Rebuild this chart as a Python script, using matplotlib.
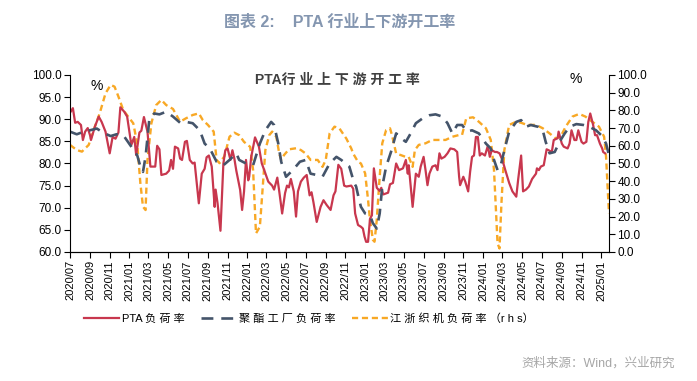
import matplotlib
matplotlib.use("Agg")
import matplotlib.pyplot as plt
import matplotlib.dates as mdates
import pandas as pd

plt.rcParams['font.family'] = ['Liberation Sans', 'Noto Sans CJK SC']

# Datos
pta_fechas = [
    "2020-07-03", "2020-07-10", "2020-07-17", "2020-07-25", "2020-08-04", "2020-08-10", "2020-08-17",
    "2020-08-25", "2020-09-01", "2020-09-04", "2020-09-16", "2020-09-28", "2020-10-07", "2020-10-19",
    "2020-11-01", "2020-11-10", "2020-11-19", "2020-11-28", "2020-12-04", "2020-12-16", "2020-12-25",
    "2021-01-07", "2021-01-16", "2021-01-22", "2021-02-01", "2021-02-07", "2021-02-15", "2021-02-26",
    "2021-03-07", "2021-03-22", "2021-03-28", "2021-04-04", "2021-04-10", "2021-04-25", "2021-05-04",
    "2021-05-10", "2021-05-16", "2021-05-22", "2021-06-01", "2021-06-07", "2021-06-13", "2021-06-22",
    "2021-06-28", "2021-07-07", "2021-07-16", "2021-07-22", "2021-08-04", "2021-08-13", "2021-08-22",
    "2021-08-28", "2021-09-04", "2021-09-13", "2021-09-22", "2021-09-25", "2021-10-01", "2021-10-10",
    "2021-10-19", "2021-10-25", "2021-11-01", "2021-11-10", "2021-11-16", "2021-11-22", "2021-11-28",
    "2021-12-10", "2021-12-16", "2021-12-22", "2021-12-28", "2022-01-04", "2022-01-07", "2022-01-13",
    "2022-01-25", "2022-02-06", "2022-02-15", "2022-02-23", "2022-03-07", "2022-03-19", "2022-03-25",
    "2022-04-04", "2022-04-10", "2022-04-19", "2022-04-28", "2022-05-04", "2022-05-10", "2022-05-16",
    "2022-05-25", "2022-06-01", "2022-06-07", "2022-06-16", "2022-06-25", "2022-07-04", "2022-07-13",
    "2022-07-19", "2022-07-25", "2022-08-04", "2022-08-16", "2022-08-25", "2022-09-04", "2022-09-16",
    "2022-09-25", "2022-10-01", "2022-10-10", "2022-10-19", "2022-10-28", "2022-11-04", "2022-11-19",
    "2022-11-25", "2022-12-01", "2022-12-10", "2022-12-19", "2022-12-25", "2022-12-30", "2023-01-04",
    "2023-01-10", "2023-01-16", "2023-01-22", "2023-01-28", "2023-02-06", "2023-02-15", "2023-02-20",
    "2023-02-26", "2023-03-13", "2023-03-19", "2023-03-28", "2023-04-07", "2023-04-16", "2023-04-28",
    "2023-05-07", "2023-05-13", "2023-05-16", "2023-05-28", "2023-06-07", "2023-06-16", "2023-06-22",
    "2023-07-01", "2023-07-07", "2023-07-13", "2023-07-19", "2023-07-28", "2023-08-07", "2023-08-13",
    "2023-08-19", "2023-08-25", "2023-09-04", "2023-09-13", "2023-09-22", "2023-10-04", "2023-10-13",
    "2023-10-19", "2023-10-22", "2023-11-01", "2023-11-07", "2023-11-16", "2023-11-22", "2023-11-28",
    "2023-12-04", "2023-12-10", "2023-12-16", "2023-12-22", "2023-12-28", "2024-01-07", "2024-01-16",
    "2024-01-22", "2024-01-28", "2024-02-07", "2024-02-13", "2024-02-21", "2024-03-01", "2024-03-10",
    "2024-03-22", "2024-04-01", "2024-04-13", "2024-04-19", "2024-04-28", "2024-05-04", "2024-05-13",
    "2024-05-22", "2024-06-01", "2024-06-13", "2024-06-16", "2024-06-22", "2024-06-28", "2024-07-07",
    "2024-07-16", "2024-07-22", "2024-08-01", "2024-08-07", "2024-08-19", "2024-08-22", "2024-09-01",
    "2024-09-07", "2024-09-19", "2024-09-25", "2024-10-01", "2024-10-10", "2024-10-16", "2024-10-22",
    "2024-11-01", "2024-11-07", "2024-11-16", "2024-11-22", "2024-11-28", "2024-12-07", "2024-12-13",
    "2024-12-19", "2024-12-28", "2025-01-04", "2025-01-07", "2025-01-13",
]
pta_valores = [
    91.7, 92.5, 89.2, 89.4, 88.7, 85.3, 87.2,
    88.0, 86.4, 85.3, 88.3, 90.6, 89.4, 87.2,
    82.3, 86.0, 85.6, 87.0, 92.7, 91.7, 90.6,
    84.2, 86.0, 81.9, 87.0, 87.4, 90.5, 87.2,
    79.3, 79.3, 84.0, 83.2, 77.4, 77.7, 78.4,
    80.8, 78.8, 83.8, 83.4, 81.1, 80.8, 84.9,
    85.1, 80.8, 80.0, 80.2, 71.0, 77.7, 78.8,
    81.4, 81.8, 79.3, 70.2, 74.1, 71.0, 64.8,
    80.0, 83.0, 83.4, 80.8, 83.0, 81.1, 78.4,
    74.0, 69.5, 73.7, 80.8, 76.2, 77.0, 81.4,
    85.9, 83.8, 80.0, 78.4, 75.9, 75.0, 74.1,
    76.8, 73.7, 68.7, 73.3, 75.0, 74.6, 76.5,
    73.7, 68.0, 73.7, 75.9, 76.8, 77.4, 72.8,
    73.5, 71.2, 66.8, 70.2, 71.7, 70.6, 69.5,
    72.8, 73.7, 79.7, 78.8, 75.0, 74.8, 75.0,
    74.3, 68.7, 66.1, 65.7, 65.3, 63.5, 62.3,
    62.3, 67.5, 68.3, 78.9, 74.5, 73.8, 74.5,
    73.0, 73.4, 75.3, 75.6, 80.0, 78.5, 78.9,
    80.8, 77.7, 79.6, 70.2, 77.7, 77.0, 79.3,
    81.5, 78.5, 75.1, 77.7, 79.3, 79.6, 78.5,
    82.3, 81.1, 81.5, 82.3, 83.4, 83.2, 82.6,
    77.0, 75.1, 77.0, 75.9, 73.7, 78.1, 81.5,
    81.8, 86.0, 86.0, 81.8, 82.3, 81.8, 84.0,
    81.5, 83.0, 82.6, 82.6, 82.3, 80.8, 78.5,
    75.6, 73.7, 72.5, 76.5, 81.8, 73.7, 74.1,
    74.8, 76.5, 77.7, 78.9, 78.5, 79.3, 79.6,
    83.2, 83.0, 82.6, 85.3, 85.7, 87.2, 84.5,
    83.8, 83.4, 84.5, 87.5, 85.3, 85.3, 87.5,
    84.9, 84.5, 84.9, 89.4, 91.3, 88.7, 86.4,
    86.4, 84.5, 83.4, 82.6, 82.3,
]

poliester_fechas = [
    "2020-07-01", "2020-07-22", "2020-08-13", "2020-09-01", "2020-09-22", "2020-10-13", "2020-11-04",
    "2020-11-22", "2020-12-13", "2021-01-04", "2021-01-25", "2021-02-04", "2021-02-12", "2021-02-20",
    "2021-03-04", "2021-03-19", "2021-04-04", "2021-04-25", "2021-05-16", "2021-06-07", "2021-06-25",
    "2021-07-16", "2021-08-07", "2021-08-22", "2021-09-07", "2021-09-28", "2021-10-19", "2021-11-07",
    "2021-11-28", "2021-12-07", "2021-12-28", "2022-01-19", "2022-02-09", "2022-02-26", "2022-03-16",
    "2022-03-25", "2022-04-07", "2022-04-16", "2022-05-01", "2022-05-22", "2022-06-13", "2022-07-01",
    "2022-07-16", "2022-08-04", "2022-08-22", "2022-09-13", "2022-10-04", "2022-10-19", "2022-11-13",
    "2022-11-28", "2022-12-04", "2022-12-13", "2022-12-19", "2023-01-01", "2023-01-16", "2023-01-25",
    "2023-02-06", "2023-02-15", "2023-02-23", "2023-03-07", "2023-03-22", "2023-04-07", "2023-04-22",
    "2023-05-07", "2023-05-22", "2023-06-07", "2023-06-28", "2023-07-19", "2023-08-07", "2023-08-28",
    "2023-09-13", "2023-09-28", "2023-10-13", "2023-10-28", "2023-11-13", "2023-11-28", "2023-12-19",
    "2024-01-10", "2024-01-25", "2024-02-04", "2024-02-15", "2024-02-24", "2024-03-07", "2024-03-22",
    "2024-04-13", "2024-04-28", "2024-05-13", "2024-05-28", "2024-06-19", "2024-07-04", "2024-07-13",
    "2024-07-25", "2024-08-10", "2024-08-25", "2024-09-10", "2024-09-25", "2024-10-16", "2024-11-07",
    "2024-11-25", "2024-12-16", "2025-01-01", "2025-01-16", "2025-01-25",
]
poliester_valores = [
    87.2, 86.6, 87.2, 87.5, 87.9, 86.9, 86.2,
    86.6, 86.4, 84.1, 81.9, 79.3, 78.1, 81.5,
    90.2, 91.3, 91.1, 91.7, 90.6, 89.2, 89.4,
    89.1, 87.5, 84.5, 83.4, 80.4, 79.6, 80.8,
    82.3, 80.8, 80.0, 79.6, 84.5, 87.5, 89.4,
    88.7, 84.5, 80.4, 77.0, 78.5, 80.4, 80.8,
    77.7, 77.4, 77.0, 80.0, 81.5, 80.8, 79.3,
    75.6, 74.8, 71.9, 70.2, 68.7, 68.3, 66.5,
    65.3, 68.7, 74.8, 79.3, 82.6, 86.8, 85.7,
    84.9, 86.8, 89.1, 90.2, 90.9, 91.1, 90.6,
    89.1, 86.8, 88.7, 88.7, 87.2, 87.5, 86.8,
    84.5, 83.4, 80.8, 78.5, 79.3, 83.0, 87.2,
    89.4, 89.8, 88.3, 88.7, 88.3, 87.5, 84.9,
    82.3, 82.6, 84.9, 86.8, 88.3, 88.9, 88.7,
    88.3, 87.5, 86.4, 84.5, 81.9,
]

telares_fechas = [
    "2020-07-01", "2020-07-22", "2020-08-07", "2020-08-28", "2020-09-16", "2020-10-01", "2020-10-19",
    "2020-11-04", "2020-11-16", "2020-11-28", "2020-12-13", "2020-12-28", "2021-01-13", "2021-01-25",
    "2021-02-04", "2021-02-12", "2021-02-20", "2021-02-26", "2021-03-10", "2021-03-25", "2021-04-10",
    "2021-04-25", "2021-05-16", "2021-06-07", "2021-06-25", "2021-07-16", "2021-08-04", "2021-08-16",
    "2021-09-01", "2021-09-19", "2021-09-28", "2021-10-07", "2021-10-22", "2021-11-07", "2021-11-22",
    "2021-12-07", "2021-12-22", "2022-01-10", "2022-01-19", "2022-01-28", "2022-02-09", "2022-02-18",
    "2022-02-26", "2022-03-10", "2022-03-19", "2022-04-01", "2022-04-10", "2022-04-16", "2022-04-25",
    "2022-05-10", "2022-06-01", "2022-06-16", "2022-07-01", "2022-07-16", "2022-08-07", "2022-08-22",
    "2022-09-01", "2022-09-13", "2022-09-28", "2022-10-13", "2022-11-04", "2022-11-19", "2022-11-25",
    "2022-12-10", "2022-12-19", "2023-01-01", "2023-01-10", "2023-01-16", "2023-01-25", "2023-01-30",
    "2023-02-06", "2023-02-15", "2023-02-23", "2023-03-07", "2023-03-19", "2023-03-25", "2023-04-07",
    "2023-04-22", "2023-05-07", "2023-05-16", "2023-05-28", "2023-06-04", "2023-06-16", "2023-07-07",
    "2023-07-28", "2023-08-19", "2023-09-07", "2023-09-28", "2023-10-19", "2023-10-28", "2023-11-10",
    "2023-12-01", "2023-12-19", "2024-01-10", "2024-01-25", "2024-02-04", "2024-02-15", "2024-02-21",
    "2024-02-27", "2024-03-07", "2024-03-22", "2024-04-13", "2024-04-28", "2024-05-16", "2024-06-13",
    "2024-07-04", "2024-07-25", "2024-08-13", "2024-08-28", "2024-09-13", "2024-10-04", "2024-10-25",
    "2024-11-13", "2024-12-04", "2024-12-25", "2025-01-10", "2025-01-16", "2025-01-25",
]
telares_valores = [
    60.5, 57.6, 56.7, 60.5, 70.8, 78.3, 89.6,
    94.4, 93.4, 87.8, 80.2, 76.5, 72.7, 61.4,
    38.8, 25.6, 23.7, 52.0, 72.7, 83.0, 85.9,
    83.0, 80.8, 73.6, 75.5, 77.4, 78.3, 74.6,
    71.8, 68.0, 52.0, 50.2, 54.0, 65.1, 67.4,
    66.0, 62.2, 59.4, 46.3, 10.5, 14.3, 36.9,
    57.6, 66.0, 68.0, 65.1, 55.6, 52.0, 54.8,
    58.0, 58.6, 57.6, 55.6, 52.0, 52.0, 48.1,
    52.0, 67.0, 70.8, 69.9, 64.0, 58.5, 55.6,
    50.9, 50.0, 44.4, 29.4, 18.1, 6.8, 5.8,
    18.1, 42.5, 61.4, 68.9, 69.9, 66.1, 55.6,
    54.7, 53.7, 53.7, 48.1, 57.6, 60.5, 61.4,
    63.3, 63.3, 63.3, 65.1, 66.1, 66.1, 75.5,
    76.1, 73.6, 69.9, 63.3, 46.3, 4.9, 2.0,
    27.5, 57.6, 71.8, 73.6, 73.0, 71.8, 71.8,
    69.9, 67.0, 64.2, 65.1, 70.8, 76.5, 78.0,
    76.5, 73.6, 70.8, 65.1, 53.8, 21.9,
]

ROJO = '#C8374E'
AZUL = '#44546A'
NARANJA = '#F8A825'

fig = plt.figure(figsize=(6.97, 3.81), dpi=100)
ax = fig.add_axes([0.1004, 0.3386, 0.7733, 0.4646])
ax2 = ax.twinx()

l1, = ax.plot(pd.to_datetime(pta_fechas), pta_valores, color=ROJO, linewidth=1.6,
              label='PTA 负 荷 率')
l2, = ax.plot(pd.to_datetime(poliester_fechas), poliester_valores, color=AZUL, linewidth=1.9,
              dashes=(4.5, 3), label='聚 酯 工 厂 负 荷 率')
l3, = ax2.plot(pd.to_datetime(telares_fechas), telares_valores, color=NARANJA, linewidth=1.7,
               dashes=(2.6, 1.6), label='江 浙 织 机 负 荷 率 （r h s）')
ax.set_zorder(ax2.get_zorder() + 1)
ax.patch.set_visible(False)

ax.set_ylim(60, 100)
ax.set_yticks([60 + 5 * i for i in range(9)])
ax.set_yticklabels([f"{60 + 5 * i:.1f}" for i in range(9)])
ax2.set_ylim(0, 100)
ax2.set_yticks([10 * i for i in range(11)])
ax2.set_yticklabels([f"{10 * i:.1f}" for i in range(11)])

ax.set_xlim(pd.Timestamp("2020-07-01"), pd.Timestamp("2025-01-25"))
ax.xaxis.set_major_locator(mdates.MonthLocator(bymonth=[1, 3, 5, 7, 9, 11]))
ax.xaxis.set_major_formatter(mdates.DateFormatter('%Y/%m'))
for etiqueta in ax.get_xticklabels():
    etiqueta.set_rotation(90)

for eje in (ax, ax2):
    eje.spines['top'].set_visible(False)
    eje.tick_params(labelsize=8.5, length=4, width=0.8, colors='black', pad=2)
ax.spines['right'].set_visible(False)
ax2.spines['left'].set_visible(False)
ax.tick_params(axis='x', labelsize=8, pad=2)

ax.text(0.05, 0.94, '%', transform=ax.transAxes, fontsize=10, ha='center', va='center')
ax2.text(0.938, 0.98, '%', transform=ax2.transAxes, fontsize=10, ha='center', va='center')
ax.text(0.497, 0.975, 'PTA行 业 上 下 游 开 工 率', transform=ax.transAxes, fontsize=10,
        ha='center', va='center', color='#404040', fontweight='bold')

fig.text(0.488, 0.942, '图表 2:    PTA 行业上下游开工率', fontsize=11.5, fontweight='bold',
         color='#8496B0', ha='center', va='center')
fig.legend(handles=[l1, l2, l3], loc='center', bbox_to_anchor=(0.443, 0.163), ncol=3,
           frameon=False, fontsize=8, handlelength=3.2, columnspacing=1.5, handletextpad=0.2)
fig.text(0.968, 0.045, '资料来源：Wind，兴业研究', fontsize=9, color='#A6A6A6', ha='right', va='center')

fig.savefig('out.png', dpi=100)
